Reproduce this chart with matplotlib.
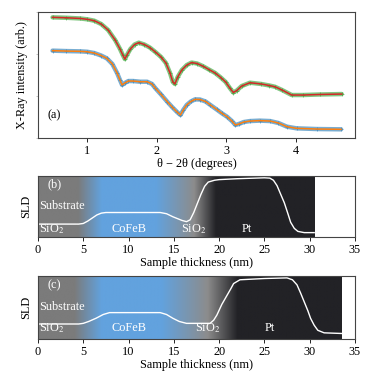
import numpy as np
import matplotlib
matplotlib.use("Agg")
import matplotlib.pyplot as plt
from matplotlib.ticker import NullFormatter

plt.rcParams['font.family'] = ['Liberation Serif', 'DejaVu Serif']
plt.rcParams['mathtext.fontset'] = 'stix'

# ---------------- data: reflectivity (log10 intensity) ----------------
upper_x = [0.50, 0.70, 0.90, 1.00, 1.10, 1.20, 1.30, 1.40, 1.47, 1.51, 1.54, 1.57, 1.62, 1.68,
           1.74, 1.82, 1.90, 1.98, 2.06, 2.13, 2.19, 2.23, 2.26, 2.30, 2.36, 2.43, 2.50, 2.58,
           2.66, 2.75, 2.84, 2.92, 2.99, 3.05, 3.10, 3.15, 3.22, 3.34, 3.50, 3.62, 3.70, 3.80,
           3.94, 4.10, 4.35, 4.66]
upper_log = [-0.38, -0.41, -0.46, -0.52, -0.62, -0.86, -1.29, -2.00, -2.64, -3.07, -3.36, -3.07,
             -2.64, -2.32, -2.19, -2.32, -2.54, -2.86, -3.21, -3.64, -4.36, -5.00, -5.14, -4.64,
             -4.14, -3.79, -3.61, -3.68, -3.86, -4.11, -4.36, -4.68, -5.00, -5.43, -5.75, -5.61,
             -5.29, -5.05, -5.14, -5.25, -5.34, -5.57, -5.93, -5.93, -5.89, -5.86]

lower_x = [0.50, 0.70, 0.90, 1.00, 1.10, 1.20, 1.28, 1.36, 1.43, 1.47, 1.50, 1.54, 1.59, 1.66,
           1.76, 1.86, 1.93, 1.98, 2.06, 2.15, 2.22, 2.29, 2.34, 2.38, 2.43, 2.49, 2.55, 2.62,
           2.70, 2.77, 2.86, 2.94, 3.01, 3.08, 3.13, 3.18, 3.25, 3.34, 3.48, 3.63, 3.75, 3.87,
           4.01, 4.30, 4.65]
lower_log = [-2.76, -2.79, -2.81, -2.84, -2.93, -3.11, -3.31, -3.71, -4.38, -4.86, -5.21, -5.07,
             -4.93, -4.93, -4.98, -4.98, -5.14, -5.45, -5.89, -6.41, -6.79, -7.14, -7.36, -7.00,
             -6.64, -6.39, -6.24, -6.25, -6.39, -6.64, -6.96, -7.25, -7.48, -7.79, -8.07, -8.00,
             -7.86, -7.79, -7.76, -7.79, -7.93, -8.19, -8.31, -8.36, -8.38]

# ---------------- data: SLD profiles ----------------
b_z = [0, 4.5, 5.0, 5.5, 6.0, 6.5, 7.0, 7.5, 13.5, 14.2, 14.9, 15.4, 15.9, 16.4, 16.8, 17.2,
       17.6, 18.0, 18.4, 18.8, 19.5, 20.0, 22.0, 25.0, 25.6, 26.0, 26.4, 26.8, 27.2, 27.6,
       27.9, 28.3, 28.7, 29.4, 30.5]
b_sld = [0.21, 0.21, 0.22, 0.26, 0.31, 0.36, 0.39, 0.40, 0.40, 0.38, 0.33, 0.30, 0.27, 0.25,
         0.28, 0.40, 0.55, 0.70, 0.83, 0.90, 0.93, 0.94, 0.955, 0.97, 0.965, 0.93, 0.84, 0.70,
         0.56, 0.38, 0.24, 0.14, 0.09, 0.07, 0.07]

c_z = [0, 4.5, 5.0, 5.6, 6.4, 7.2, 7.9, 13.5, 14.2, 14.9, 15.6, 16.4, 19.0, 19.4, 19.75,
       20.3, 20.9, 21.3, 21.6, 22.3, 25.0, 27.5, 28.1, 28.6, 29.0, 29.4, 29.8, 30.1, 30.5,
       30.9, 31.6, 33.5]
c_sld = [0.24, 0.24, 0.25, 0.28, 0.33, 0.39, 0.42, 0.42, 0.39, 0.33, 0.28, 0.25, 0.25, 0.30,
         0.38, 0.55, 0.70, 0.80, 0.88, 0.94, 0.96, 0.97, 0.94, 0.86, 0.73, 0.59, 0.45, 0.33,
         0.22, 0.14, 0.10, 0.09]

# layer colour stops (position nm, colour)
b_stops = [0, 4.4, 7.0, 13.0, 17.2, 19.6, 30.5]
c_stops = [0, 4.0, 7.0, 13.6, 18.7, 22.0, 33.5]
stop_cols = ['#7b7b7b', '#7b7b7b', '#62a2de', '#62a2de', '#8c8c8c', '#222226', '#222226']

b_labels = [('Substrate', 0.1, 0.50, 'left'), ('SiO$_2$', 0.1, 0.13, 'left'),
            ('CoFeB', 10.1, 0.13, 'center'), ('SiO$_2$', 17.2, 0.13, 'center'),
            ('Pt', 23.1, 0.13, 'center'), ('(b)', 1.0, 0.87, 'left')]
c_labels = [('Substrate', 0.1, 0.51, 'left'), ('SiO$_2$', 0.1, 0.17, 'left'),
            ('CoFeB', 10.1, 0.17, 'center'), ('SiO$_2$', 18.7, 0.17, 'center'),
            ('Pt', 25.6, 0.17, 'center'), ('(c)', 1.0, 0.86, 'left')]

xticks_sld = [0, 5, 10, 15, 20, 25, 30, 35]
xticks_xrr = [1, 2, 3, 4]

FS = 8.8
fig = plt.figure(figsize=(3.76, 3.76), dpi=100)

# ---------------- panel (a) ----------------
ax = fig.add_axes([0.101, 0.633, 0.843, 0.335])
ux = np.array(upper_x); uy = 10 ** np.array(upper_log)
lx = np.array(lower_x); ly = 10 ** np.array(lower_log)
for xx, yy, dc, fc in [(lx, ly, '#1f77b4', '#ff7f0e'), (ux, uy, '#2ca02c', '#d62728')]:
    ax.plot(xx, yy, color=dc, lw=3.2, alpha=0.6, solid_capstyle='round')
    ax.plot(xx, yy, '+', color=dc, ms=2.5, mew=0.6, alpha=0.6)
    ax.plot(xx, yy, color=fc, lw=1.1)
ax.set_yscale('log')
ax.set_ylim(1e-9, 1)
ax.set_xlim(0.29, 4.85)
ax.yaxis.set_major_formatter(NullFormatter())
ax.yaxis.set_minor_formatter(NullFormatter())
ax.tick_params(axis='y', which='both', length=1.5, width=0.4, colors='#999999')
ax.set_xticks(xticks_xrr)
ax.tick_params(axis='x', labelsize=FS, length=3, width=0.6, pad=2)
ax.set_xlabel('θ − 2θ (degrees)', fontsize=FS, labelpad=1)
ax.set_ylabel('X-Ray intensity (arb.)', fontsize=FS, labelpad=2)
ax.text(0.03, 0.16, '(a)', transform=ax.transAxes, fontsize=FS)
for s in ax.spines.values():
    s.set_color('#444444'); s.set_linewidth(0.8)


def sld_panel(rect, z, sld, stops, labels):
    a = fig.add_axes(rect)
    grid = np.linspace(0, stops[-1], 600)
    rgb = np.array([matplotlib.colors.to_rgb(c) for c in stop_cols])
    img = np.stack([np.interp(grid, stops, rgb[:, k]) for k in range(3)], axis=-1)
    a.imshow(img[np.newaxis, :, :], extent=[0, stops[-1], 0, 1], aspect='auto',
             interpolation='bilinear', zorder=0)
    a.plot(z, sld, color='white', lw=1.0, zorder=2)
    for txt, x, y, ha in labels:
        a.text(x, y, txt, color='white', fontsize=FS, ha=ha, va='center', zorder=3)
    a.set_xlim(0, 35)
    a.set_ylim(0, 1)
    a.set_yticks([])
    a.set_xticks(xticks_sld)
    a.tick_params(axis='x', labelsize=FS, length=3, width=0.6, pad=2)
    a.set_xlabel('Sample thickness (nm)', fontsize=FS, labelpad=1)
    a.set_ylabel('SLD', fontsize=FS, labelpad=4)
    for s in a.spines.values():
        s.set_color('#444444'); s.set_linewidth(0.8)
    return a


sld_panel([0.101, 0.370, 0.843, 0.162], b_z, b_sld, b_stops, b_labels)
sld_panel([0.101, 0.098, 0.843, 0.168], c_z, c_sld, c_stops, c_labels)

fig.savefig('out.png', dpi=100)
